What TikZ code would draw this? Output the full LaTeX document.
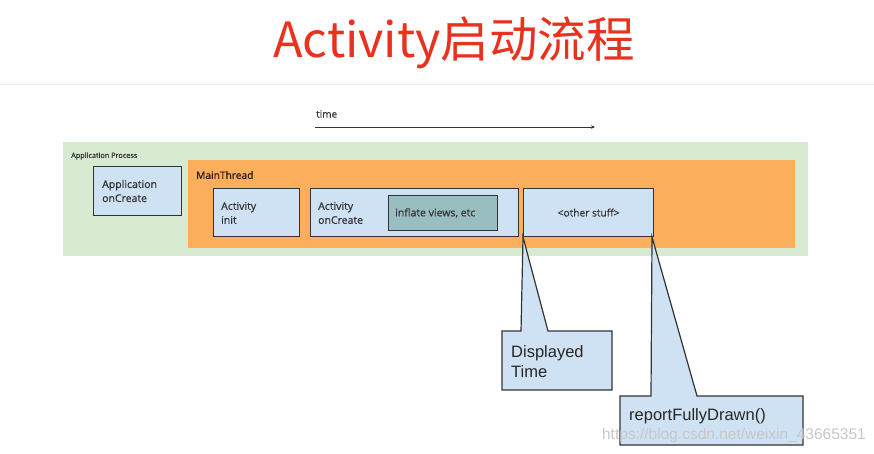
\documentclass[tikz,border=0pt]{standalone}
\usepackage{fontspec}
\setmainfont{Liberation Sans}
\newfontfamily\cjk{Noto Sans CJK SC}
\newfontfamily\boxfont[FakeBold=0.6]{Open Sans}
\usetikzlibrary{arrows.meta}
\definecolor{procgreen}{HTML}{D9EAD3}
\definecolor{threadorange}{HTML}{FBAE5C}
\definecolor{boxblue}{HTML}{CFE2F3}
\definecolor{inflateteal}{HTML}{98BEC1}
\definecolor{titlered}{HTML}{E8321E}
\definecolor{edgegray}{HTML}{333333}
\tikzset{
  bluebox/.style={draw=edgegray, line width=1.2pt, fill=boxblue, inner sep=0pt},
  lbl/.style={font=\boxfont\fontsize{10.5}{14}\selectfont, text=edgegray, align=left, anchor=west, inner sep=0pt},
  calloutshape/.style={draw=edgegray, line width=1.2pt, fill=boxblue},
  callouttext/.style={font=\fontsize{16.5}{20}\selectfont, text=black!85, align=left, anchor=west, inner sep=0pt}
}
\begin{document}
\begin{tikzpicture}[x=1pt,y=-1pt]
\useasboundingbox (0,0) rectangle (874,453);
\fill[white] (0,0) rectangle (874,453);
% title
\node[font=\cjk\fontsize{48.5}{52}\selectfont, text=titlered, inner sep=0pt, anchor=base] (title) at (454,57) {Activity启动流程};
\draw[black!8, line width=0.8pt] (0,84) -- (874,84);
% time arrow
\node[font=\boxfont\fontsize{10}{12}\selectfont, text=edgegray, anchor=west, inner sep=0pt] (timelbl) at (316,114) {time};
\coordinate (t0) at (315,127);
\coordinate (t1) at (595,127);
\draw[-{Stealth[length=4pt,width=3.5pt]}, line width=0.8pt, black!80] (t0) -- (t1);
% process and thread
\node[fill=procgreen, minimum width=745pt, minimum height=114pt, anchor=north west, inner sep=0pt] (proc) at (63,142) {};
\node[font=\boxfont\fontsize{7.3}{9}\selectfont, text=edgegray, anchor=west, inner sep=0pt] (proclbl) at (71,156) {Application Process};
\node[fill=threadorange, minimum width=607pt, minimum height=88pt, anchor=north west, inner sep=0pt] (thread) at (188,160) {};
\node[font=\boxfont\fontsize{10.2}{12}\selectfont, text=black!80!brown, anchor=west, inner sep=0pt] (threadlbl) at (196,175) {MainThread};
% boxes
\node[bluebox, minimum width=88pt, minimum height=49pt, anchor=north west] (appc) at (93,166) {};
\node[lbl] (appclbl) at (102,191) {Application\\onCreate};
\node[bluebox, minimum width=86pt, minimum height=48pt, anchor=north west] (ainit) at (213,188) {};
\node[lbl] (ainitlbl) at (221,213) {Activity\\init};
\node[bluebox, minimum width=208pt, minimum height=48pt, anchor=north west] (acreate) at (310,188) {};
\node[lbl] (acreatelbl) at (318,213) {Activity\\onCreate};
\node[draw=edgegray, line width=1.2pt, fill=inflateteal, minimum width=109pt, minimum height=35pt, anchor=north west, inner sep=0pt] (inflate) at (388,195) {};
\node[font=\boxfont\fontsize{10.5}{12}\selectfont, text=edgegray, anchor=west, inner sep=0pt] (inflatelbl) at (395,213) {inflate views, etc};
\node[bluebox, minimum width=130pt, minimum height=48pt, anchor=north west, font=\boxfont\fontsize{10.2}{12}\selectfont, text=edgegray] (other) at (523,188) {<other stuff>};
% callouts
\coordinate (dtip) at (523,237);
\draw[calloutshape] (502,331) -- (521,331) -- (dtip) -- (548,331) -- (612,331) -- (612,390) -- (502,390) -- cycle;
\node[callouttext] (dlbl) at (511,362) {Displayed\\Time};
\coordinate (rtip) at (652,237);
\draw[calloutshape] (620,396) -- (651,396) -- (rtip) -- (697,396) -- (803,396) -- (803,445) -- (620,445) -- cycle;
\node[callouttext] (rlbl) at (629,416) {reportFullyDrawn()};
% watermark
\node[font=\fontsize{15.5}{18}\selectfont, text=black!22, anchor=east, inner sep=0pt] (wm) at (866,435) {https://blog.csdn.net/weixin\_43665351};
\end{tikzpicture}
\end{document}
